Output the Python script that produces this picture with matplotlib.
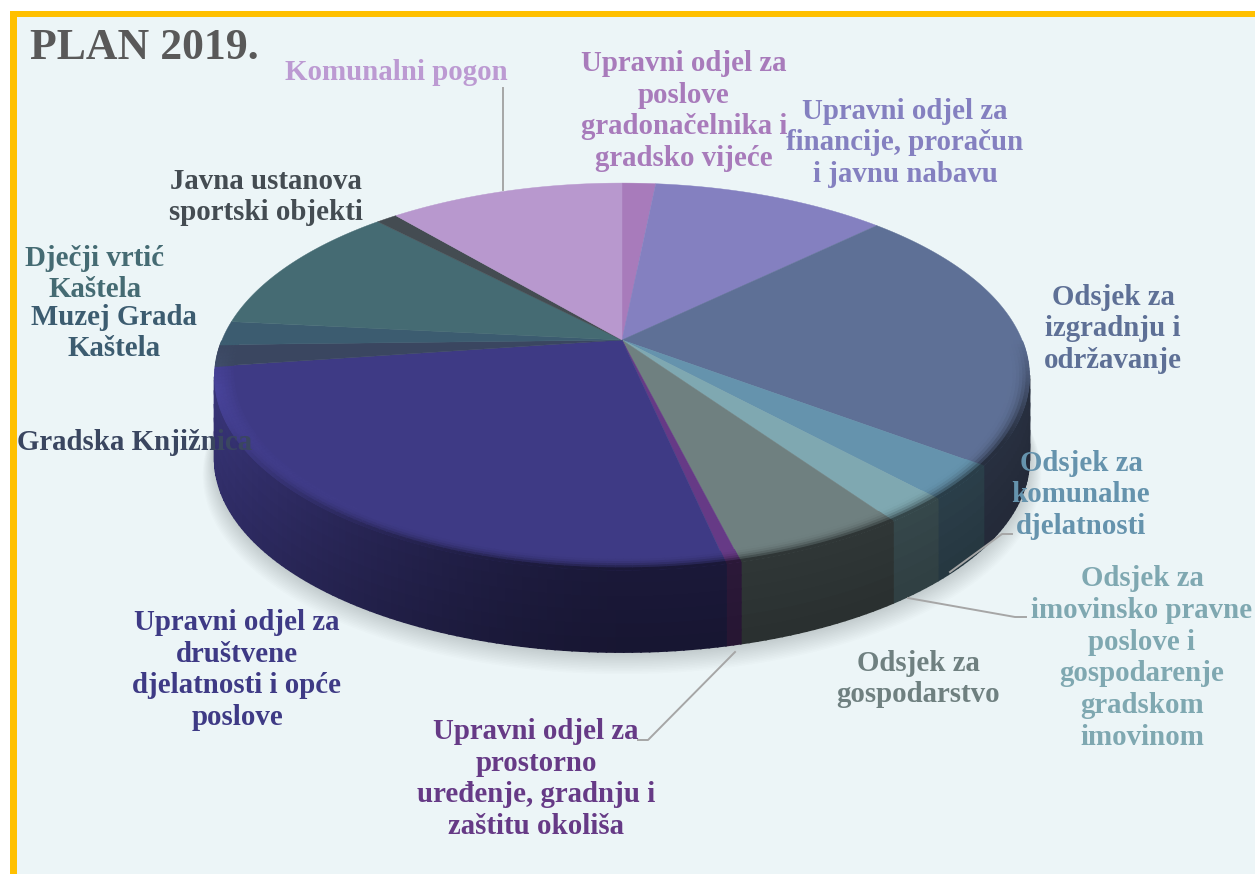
import numpy as np
import matplotlib
matplotlib.use('Agg')
import matplotlib.pyplot as plt
from matplotlib.colors import to_rgb
from matplotlib.patches import Rectangle

plt.rcParams['font.family'] = ['Liberation Serif', 'DejaVu Serif']

# share of the plan per department, clockwise from 12 o'clock (%)
departments = [
    'Upravni odjel za\nposlove\ngradonačelnika i\ngradsko vijeće',
    'Upravni odjel za\nfinancije, proračun\ni javnu nabavu',
    'Odsjek za\nizgradnju i\nodržavanje',
    'Odsjek za\nkomunalne\ndjelatnosti',
    'Odsjek za\nimovinsko pravne\nposlove i\ngospodarenje\ngradskom\nimovinom',
    'Odsjek za\ngospodarstvo',
    'Upravni odjel za\nprostorno\nuređenje, gradnju i\nzaštitu okoliša',
    'Upravni odjel za\ndruštvene\ndjelatnosti i opće\nposlove',
    'Gradska Knjižnica',
    'Muzej Grada\nKaštela',
    'Dječji vrtić\nKaštela',
    'Javna ustanova\nsportski objekti',
    'Komunalni pogon',
]
shares = [1.6, 11.2, 22.4, 2.9, 2.2, 5.8, 0.5, 26.2, 1.8, 2.0, 11.2, 1.0, 11.2]
colors = ['#A87BBB', '#8480C0', '#5E7096', '#6593AD', '#7FA8B1', '#6F8080', '#663A86',
          '#3E3A85', '#3A4660', '#3C5C70', '#456B73', '#444C52', '#B898CE']
label_colors = ['#A87BBB', '#8480C0', '#5E7096', '#6593AD', '#7FA8B1', '#6F8080', '#663A86',
                '#3E3A85', '#3A4660', '#3C5C70', '#456B73', '#444C52', '#BC9AD2']
label_pos = [(684, 110), (905, 142), (1113, 328), (1081, 494), (1142, 657), (918, 678),
             (536, 778), (237, 669), (135, 441), (114, 332), (95, 273), (266, 196), (396, 71)]

# perspective of the pie disc, in pixels
CX, CY, A, B, K = 622, 340, 400, 186.6, 0.189
DEPTH = 82


def project(r, t):
    # t runs clockwise from the top of the disc
    u, v = r * np.sin(t), r * np.cos(t)
    w = 1 + K * v
    return CX + A * u / w, CY - B * v / w


def side_factor(t):
    return 0.42 + 0.5 * np.maximum(0, -np.sin(t)) ** 1.5


fig = plt.figure(figsize=(12.55, 8.74), dpi=100)
ax = fig.add_axes([0, 0, 1, 1])
ax.set_xlim(0, 1255)
ax.set_ylim(874, 0)
ax.axis('off')

# frame: gold on top and left only, the rest runs off the picture
ax.add_patch(Rectangle((10, 11), 1245, 863, fc='#ECF5F7', ec='none', zorder=0))
ax.add_patch(Rectangle((10, 11), 7, 863, fc='#FFC000', ec='none', zorder=1))
ax.add_patch(Rectangle((10, 11), 1245, 6, fc='#FFC000', ec='none', zorder=1))

edges = np.concatenate([[0], np.cumsum(shares)]) / np.sum(shares) * 2 * np.pi

# soft shadow under the disc
tt = np.linspace(0, 2 * np.pi, 300)
for s in range(14, 0, -1):
    sx, sy = project(1 + s * 0.002, tt)
    ax.fill(sx, sy + DEPTH + s * 1.0, color='#5A6468', alpha=0.02, lw=0, zorder=2)

# side wall, only the part that faces the viewer
ROWS = 6
for c, t0, t1 in zip(colors, edges[:-1], edges[1:]):
    rgb = np.array(to_rgb(c))
    n = max(2, int(np.degrees(t1 - t0)))
    ts = np.linspace(t0, t1, n + 1)
    for a0, a1 in zip(ts[:-1], ts[1:]):
        if np.cos((a0 + a1) / 2) > -K:
            continue
        x0, y0 = project(1, a0)
        x1, y1 = project(1, a1)
        f = side_factor((a0 + a1) / 2)
        for row in range(ROWS):
            d0, d1 = DEPTH * row / ROWS, DEPTH * (row + 1) / ROWS
            col = rgb * f * (1 - 0.12 * row / ROWS)
            ax.fill([x0, x1, x1, x0], [y0 + d0, y1 + d0, y1 + d1, y0 + d1],
                    color=tuple(col), lw=1.2, zorder=3)

# top face
for c, t0, t1 in zip(colors, edges[:-1], edges[1:]):
    ts = np.linspace(t0, t1, max(3, int(np.degrees(t1 - t0)) * 2))
    x, y = project(1, ts)
    ax.fill(np.r_[CX, x], np.r_[CY, y], color=c, lw=0.3, zorder=4)

# bevel round the front of the rim
RINGS = np.linspace(0.955, 1.0, 7)
for c, t0, t1 in zip(colors, edges[:-1], edges[1:]):
    rgb = np.array(to_rgb(c))
    n = max(2, int(np.degrees(t1 - t0)))
    ts = np.linspace(t0, t1, n + 1)
    for a0, a1 in zip(ts[:-1], ts[1:]):
        mid = (a0 + a1) / 2
        front = max(0, -np.cos(mid))
        if front <= 0:
            continue
        f = side_factor(mid)
        light = max(0, -np.sin(mid)) ** 2
        for j, (r0, r1) in enumerate(zip(RINGS[:-1], RINGS[1:])):
            fr = (j + 1) / (len(RINGS) - 1)
            dark = rgb * (1 - fr ** 2.5 * min(1, front * 2) * (1 - f))
            col = np.clip(dark + rgb * 0.22 * light * fr * min(1, front * 4), 0, 1)
            xa, ya = project(r0, np.array([a0, a1]))
            xb, yb = project(r1, np.array([a1, a0]))
            ax.fill(np.r_[xa, xb], np.r_[ya, yb], color=tuple(col), lw=0.8, zorder=5)

# leader lines
leaders = [
    ([503, 503], [88, 190]),
    ([950, 1002, 1012], [572, 534, 534]),
    ([908, 1015, 1026], [598, 617, 617]),
    ([735, 648, 638], [652, 740, 740]),
]
for lx, ly in leaders:
    ax.plot(lx, ly, color='#A6A6A6', lw=1.4, zorder=6)

ax.text(30, 59, 'PLAN 2019.', fontsize=31.5, fontweight='bold', color='#595959',
        ha='left', va='baseline', zorder=7)
for name, col, (lx, ly) in zip(departments, label_colors, label_pos):
    ax.text(lx, ly + 1, name, fontsize=20.8, fontweight='bold', color=col, ha='center',
            va='center', linespacing=1.22, zorder=7)

plt.savefig('out.png', dpi=100)
